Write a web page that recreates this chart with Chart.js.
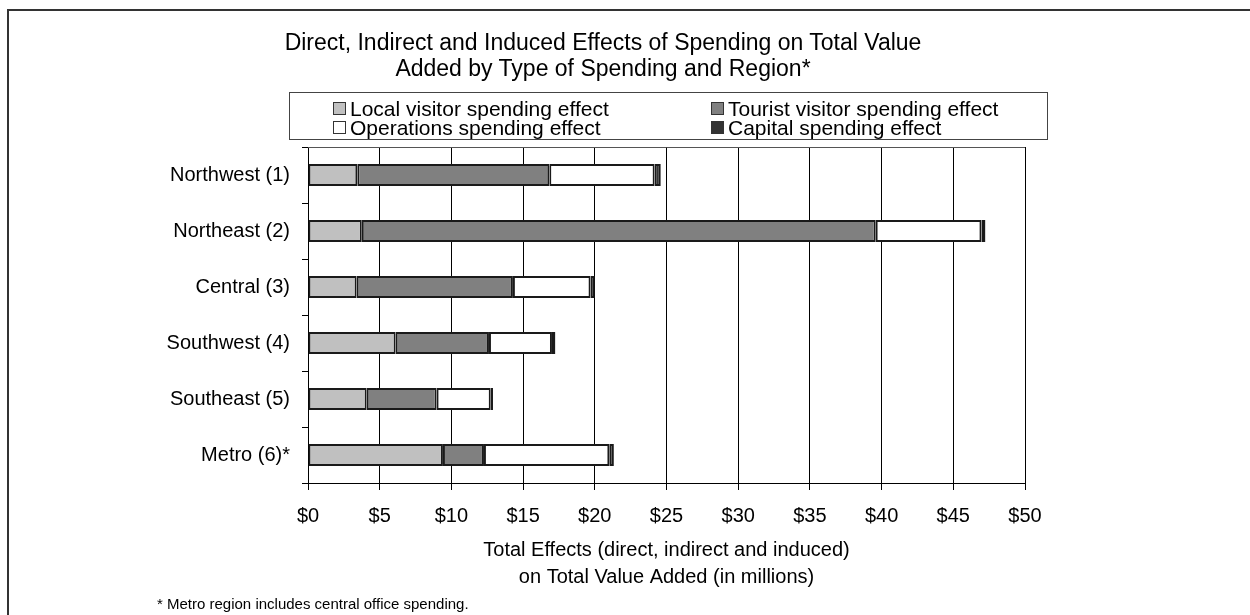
<!DOCTYPE html>
<html>
<head>
<meta charset="utf-8">
<script src="https://cdn.jsdelivr.net/npm/chart.js@4.4.0/dist/chart.umd.min.js"></script>
<style>
    body { margin: 0; background: #fff; font-family: 'Liberation Sans', Arial, sans-serif; color: #000; }
    #wrap { position: relative; width: 1250px; height: 615px; overflow: hidden; }
    #frame { position: absolute; left: 7px; top: 9px; width: 1400px; height: 800px; border-left: 2px solid #333; border-top: 2px solid #333; }
    #title { position: absolute; left: 203px; width: 800px; top: 29px; text-align: center; font-size: 23px; line-height: 26px; white-space: nowrap; }
    #legend { position: absolute; left: 289px; top: 92px; width: 757px; height: 46px; border: 1px solid #444; }
    .item { position: absolute; font-size: 21px; line-height: 19px; white-space: nowrap; }
    .sw { position: absolute; width: 13px; height: 13px; border: 1px solid #333; box-sizing: border-box; }
    #note { position: absolute; left: 157px; top: 595px; font-size: 15px; white-space: nowrap; }
    canvas { position: absolute; left: 0; top: 0; }
</style>
</head>
<body>
<div id="wrap">
    <div id="frame"></div>
    <canvas id="myChart" width="1250" height="615"></canvas>
    <div id="title">Direct, Indirect and Induced Effects of Spending on Total Value<br>Added by Type of Spending and Region*</div>
    <div id="legend"></div>
    <div id="note">* Metro region includes central office spending.</div>
</div>
<script>
// regions, top to bottom
const regions = ['Northwest (1)', 'Northeast (2)', 'Central (3)', 'Southwest (4)', 'Southeast (5)', 'Metro (6)*'];

// effects in millions of dollars
const localVisitor = [3.44, 3.75, 3.39, 6.11, 4.09, 9.41];
const touristVisitor = [13.39, 35.84, 10.90, 6.51, 4.88, 2.86];
const operations = [7.34, 7.37, 5.41, 4.39, 3.77, 8.74];
const capital = [0.43, 0.28, 0.30, 0.24, 0.16, 0.32];

const seriesNames = ['Local visitor spending effect', 'Tourist visitor spending effect', 'Operations spending effect', 'Capital spending effect'];
const seriesColors = ['#c0c0c0', '#808080', '#ffffff', '#333333'];

const xTicks = [0, 5, 10, 15, 20, 25, 30, 35, 40, 45, 50];
const xTitle = ['Total Effects (direct, indirect and induced)', 'on Total Value Added (in millions)'];

// legend laid out as 2x2 grid like the original
const legendPos = [[43, 6], [421, 6], [43, 25], [421, 25]];
const legendEl = document.getElementById('legend');
seriesNames.forEach((name, i) => {
    const sw = document.createElement('div');
    sw.className = 'sw';
    sw.style.left = legendPos[i][0] + 'px';
    sw.style.top = (legendPos[i][1] + 3) + 'px';
    sw.style.background = seriesColors[i];
    legendEl.appendChild(sw);
    const t = document.createElement('div');
    t.className = 'item';
    t.style.left = (legendPos[i][0] + 17) + 'px';
    t.style.top = legendPos[i][1] + 'px';
    t.textContent = name;
    legendEl.appendChild(t);
});

const plotTop = {
    id: 'plotTop',
    afterDatasetsDraw(chart) {
        const {ctx, chartArea} = chart;
        ctx.save();
        ctx.strokeStyle = '#555';
        ctx.lineWidth = 1;
        ctx.beginPath();
        ctx.moveTo(chartArea.left, chartArea.top + 0.5);
        ctx.lineTo(chartArea.right, chartArea.top + 0.5);
        ctx.stroke();
        ctx.restore();
    }
};

const font = {family: "'Liberation Sans', Arial, sans-serif", size: 20};

const mkSet = (i, data) => ({
    label: seriesNames[i],
    data: data,
    backgroundColor: seriesColors[i],
    borderColor: '#1a1a1a',
    borderWidth: 2,
    borderSkipped: false,
    barPercentage: 0.39,
    categoryPercentage: 1
});

new Chart(document.getElementById('myChart').getContext('2d'), {
    type: 'bar',
    plugins: [plotTop],
    data: {
        labels: regions,
        datasets: [
            mkSet(0, localVisitor),
            mkSet(1, touristVisitor),
            mkSet(2, operations),
            mkSet(3, capital)
        ]
    },
    options: {
        indexAxis: 'y',
        responsive: false,
        animation: false,
        layout: {
            padding: {top: 147, right: 225, left: 0, bottom: 22}
        },
        scales: {
            x: {
                stacked: true,
                min: 0,
                max: 50,
                afterBuildTicks: (scale) => {
                    scale.ticks = xTicks.map(v => ({value: v}));
                },
                afterFit: (scale) => {
                    scale.height = 110;
                },
                ticks: {
                    color: '#000',
                    font: font,
                    padding: 14,
                    maxRotation: 0,
                    callback: (v) => '$' + v
                },
                grid: {
                    color: '#000',
                    lineWidth: 1,
                    tickLength: 7
                },
                border: {color: '#000', width: 1},
                title: {
                    display: true,
                    text: xTitle,
                    color: '#000',
                    font: {family: font.family, size: 20, lineHeight: '27px'},
                    padding: {top: 0, bottom: 2}
                }
            },
            y: {
                stacked: true,
                afterFit: (scale) => {
                    scale.width = 308;
                },
                ticks: {
                    color: '#000',
                    font: font,
                    padding: 12
                },
                grid: {
                    drawOnChartArea: false,
                    drawTicks: true,
                    tickLength: 6,
                    color: '#000',
                    offset: true
                },
                border: {color: '#000', width: 1}
            }
        },
        plugins: {
            legend: {display: false},
            title: {display: false},
            tooltip: {enabled: false}
        }
    }
});
</script>
</body>
</html>
